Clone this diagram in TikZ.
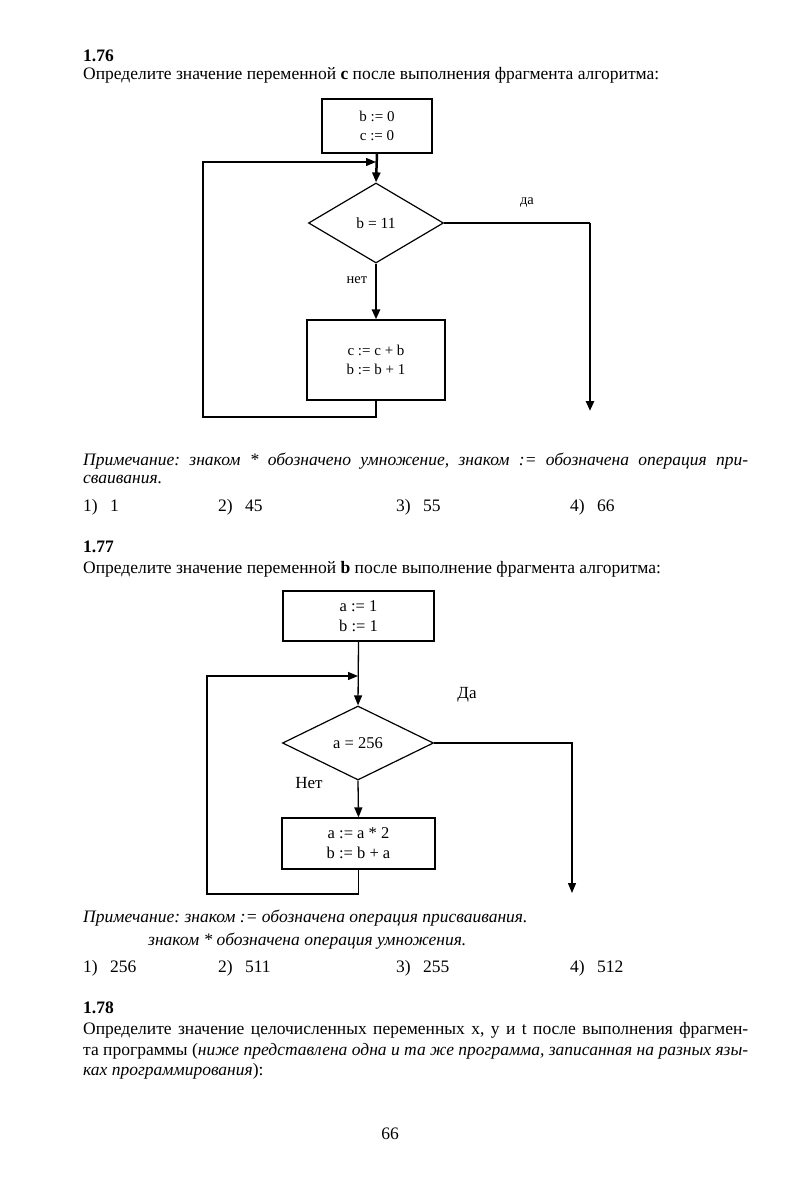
\documentclass[tikz,border=0pt]{standalone}
\usepackage{fontspec}
\setmainfont{Liberation Serif}
\usetikzlibrary{arrows.meta,shapes.geometric}
\frenchspacing
\begin{document}
\begin{tikzpicture}[x=1pt,y=-1pt,
  body/.style={anchor=base west,inner sep=0pt,font=\fontsize{17.5}{20}\selectfont},
  note/.style={anchor=base west,inner sep=0pt,font=\fontsize{17.5}{20}\selectfont\itshape},
  numhead/.style={anchor=base west,inner sep=0pt,font=\fontsize{17.5}{20}\selectfont\bfseries},
  blkA/.style={draw,line width=1.2pt,inner sep=0pt,align=center,font=\fontsize{15}{19.5}\selectfont},
  blkB/.style={draw,line width=1.2pt,inner sep=0pt,align=center,font=\fontsize{16.5}{20}\selectfont},
  condA/.style={draw,diamond,line width=1.2pt,inner sep=0pt,font=\fontsize{15.5}{18}\selectfont},
  condB/.style={draw,diamond,line width=1.2pt,inner sep=0pt,font=\fontsize{16.5}{18}\selectfont},
  lblA/.style={inner sep=0pt,font=\fontsize{14.5}{16}\selectfont},
  lblB/.style={inner sep=0pt,font=\fontsize{17}{18}\selectfont},
  tip/.style={-{Triangle[length=10pt,width=8pt]}},
  thinln/.style={line width=1.3pt},
  thickln/.style={line width=2.5pt}]
\useasboundingbox[fill=white] (0,0) rectangle (797,1190);

% ---------- 1.76 ----------
\node[numhead] (h76) at (83,62) {1.76};
\node[body] (q76) at (83,80) {Определите значение переменной \textbf{c} после выполнения фрагмента алгоритма:};

\node[blkA,minimum width=110pt,minimum height=54pt] (a1) at (377,126) {b := 0\\c := 0};
\node[condA,minimum width=135pt,minimum height=80pt] (d1) at (376,223) {b = 11};
\node[blkA,minimum width=138pt,minimum height=80pt] (a2) at (376,360) {c := c + b\\b := b + 1};
\node[lblA] (yes1) at (527,203) {да};
\node[lblA] (no1) at (357,280) {нет};

\coordinate (m1) at (376,162);
\coordinate (lb1) at (203,417);
\coordinate (r1) at (590,223);
\coordinate (e1) at (590,411);

\draw[thickln,tip] (a1.south) -- (d1.north);
\draw[thickln,tip] (d1.south) -- (a2.north);
\draw[thinln] (d1.east) -- (r1);
\draw[thickln,tip] (r1) -- (e1);
\draw[thinln,tip] (a2.south) |- (lb1) |- (m1);

\node[note] (n76a) at (83,465) {\makebox[665pt][s]{Примечание: знаком * обозначено умножение, знаком := обозначена операция при-}};
\node[note] (n76b) at (83,483) {сваивания.};

\node[body] (o761) at (83,511) {1)\hspace{0.7em}1};
\node[body] (o762) at (218,511) {2)\hspace{0.7em}45};
\node[body] (o763) at (396,511) {3)\hspace{0.7em}55};
\node[body] (o764) at (570,511) {4)\hspace{0.7em}66};

% ---------- 1.77 ----------
\node[numhead] (h77) at (83,552) {1.77};
\node[body] (q77) at (83,573) {Определите значение переменной \textbf{b} после выполнение фрагмента алгоритма:};

\node[blkB,minimum width=151pt,minimum height=50pt] (b1) at (358.5,616) {a := 1\\b := 1};
\node[condB,minimum width=151pt,minimum height=74pt] (d2) at (358,743) {a = 256};
\node[blkB,minimum width=153pt,minimum height=51pt] (b2) at (358.5,843.5) {a := a * 2\\b := b + a};
\node[lblB] (yes2) at (467,695) {Да};
\node[lblB] (no2) at (309,783) {Нет};

\coordinate (m2) at (358,676);
\coordinate (lb2) at (207,894);
\coordinate (e2) at (572,893);

\draw[thinln,tip] (b1.south) -- (d2.north);
\draw[thinln,tip] (d2.south) -- (b2.north);
\draw[thinln,tip] (d2.east) -| (e2);
\draw[thinln,tip] (b2.south) |- (lb2) |- (m2);

\node[note] (n77a) at (83,922) {Примечание: знаком := обозначена операция присваивания.};
\node[note] (n77b) at (148,945) {знаком * обозначена операция умножения.};

\node[body] (o771) at (83,972) {1)\hspace{0.7em}256};
\node[body] (o772) at (218,972) {2)\hspace{0.7em}511};
\node[body] (o773) at (396,972) {3)\hspace{0.7em}255};
\node[body] (o774) at (570,972) {4)\hspace{0.7em}512};

% ---------- 1.78 ----------
\node[numhead] (h78) at (83,1013) {1.78};
\node[body] (q78a) at (83,1034) {\makebox[665pt][s]{Определите значение целочисленных переменных x, y и t после выполнения фрагмен-}};
\node[body] (q78b) at (83,1055) {\makebox[665pt][s]{та программы (\textit{ниже представлена одна и та же программа, записанная на разных язы-}}};
\node[body] (q78c) at (83,1075) {\textit{ках программирования}):};

\node[body,anchor=base] (pg) at (390,1139) {66};
\end{tikzpicture}
\end{document}
